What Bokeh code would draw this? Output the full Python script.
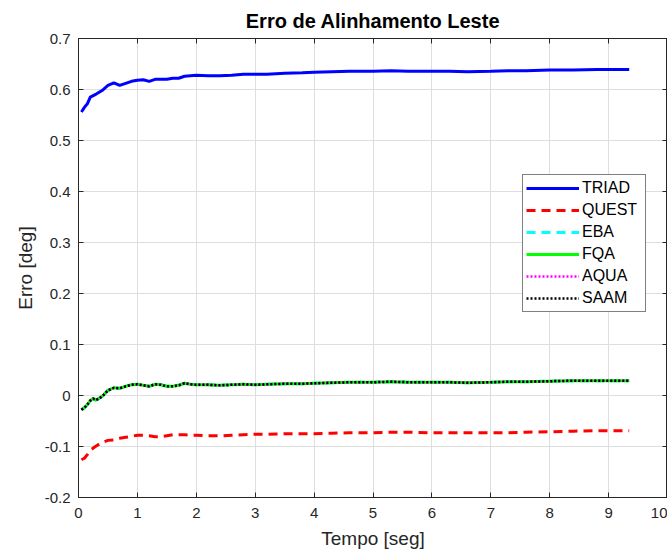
from bokeh.plotting import figure
from bokeh.models import LinearAxis, FixedTicker, Range1d, Legend, LegendItem, CustomJSTickFormatter
from bokeh.embed import file_html
from bokeh.resources import INLINE

# ---- data ----
t = [0.05, 0.1, 0.15, 0.2, 0.25, 0.3, 0.4, 0.5, 0.6, 0.7, 0.8, 0.9, 1.0, 1.1, 1.2, 1.3,
     1.4, 1.5, 1.6, 1.7, 1.8, 1.9, 2.0, 2.2, 2.4, 2.6, 2.8, 3.0, 3.2, 3.5, 3.8, 4.0,
     4.3, 4.6, 5.0, 5.3, 5.6, 6.0, 6.3, 6.6, 7.0, 7.3, 7.6, 8.0, 8.4, 8.8, 9.0, 9.35]
triad = [0.556, 0.565, 0.572, 0.585, 0.588, 0.591, 0.598, 0.608, 0.613, 0.608, 0.612, 0.616,
         0.618, 0.619, 0.616, 0.620, 0.620, 0.620, 0.622, 0.622, 0.626, 0.627, 0.628, 0.627,
         0.627, 0.628, 0.630, 0.630, 0.630, 0.632, 0.633, 0.634, 0.635, 0.636, 0.636, 0.637,
         0.636, 0.636, 0.636, 0.635, 0.636, 0.637, 0.637, 0.638, 0.638, 0.639, 0.639, 0.639]
quest = [-0.126, -0.123, -0.116, -0.108, -0.103, -0.099, -0.092, -0.088, -0.087, -0.084,
         -0.082, -0.080, -0.078, -0.078, -0.079, -0.081, -0.081, -0.079, -0.077, -0.077,
         -0.077, -0.078, -0.078, -0.079, -0.079, -0.078, -0.077, -0.076, -0.076, -0.075,
         -0.075, -0.075, -0.074, -0.073, -0.073, -0.072, -0.072, -0.073, -0.073, -0.073,
         -0.073, -0.073, -0.072, -0.071, -0.070, -0.069, -0.069, -0.069]
fqa = [-0.028, -0.024, -0.018, -0.010, -0.006, -0.009, -0.002, 0.010, 0.015, 0.014, 0.018,
       0.021, 0.022, 0.020, 0.018, 0.022, 0.021, 0.018, 0.018, 0.020, 0.024, 0.022, 0.021,
       0.021, 0.020, 0.021, 0.022, 0.021, 0.022, 0.023, 0.023, 0.024, 0.025, 0.026, 0.026,
       0.027, 0.026, 0.026, 0.026, 0.025, 0.026, 0.027, 0.027, 0.028, 0.029, 0.029, 0.029,
       0.029]
eba = list(fqa)
aqua = list(fqa)
saam = list(fqa)

x_ticks = [0, 1, 2, 3, 4, 5, 6, 7, 8, 9, 10]
y_ticks = [-0.2, -0.1, 0, 0.1, 0.2, 0.3, 0.4, 0.5, 0.6, 0.7]
y_tick_labels = ["-0.2", "-0.1", "0", "0.1", "0.2", "0.3", "0.4", "0.5", "0.6", "0.7"]

FONT = "Liberation Sans"
AX = "#262626"

p = figure(width=667, height=551, output_backend="svg", toolbar_location=None,
           x_range=Range1d(0, 10), y_range=Range1d(-0.2, 0.7),
           min_border_left=78, min_border_right=0, min_border_bottom=0, min_border_top=0)

p.title.text = "Erro de Alinhamento Leste"
p.title.align = "center"
p.title.text_font = FONT
p.title.text_font_size = "20px"
p.title.text_font_style = "bold"
p.title.text_color = "#000000"
p.title.standoff = 14

p.outline_line_color = AX
p.outline_line_width = 1
p.background_fill_color = "white"
p.border_fill_color = "white"

for ax in (p.xaxis[0], p.yaxis[0]):
    ax.axis_line_color = AX
    ax.major_tick_line_color = AX
    ax.major_tick_in = 5
    ax.major_tick_out = 0
    ax.minor_tick_line_color = None
    ax.major_label_text_font = FONT
    ax.major_label_text_font_size = "15px"
    ax.major_label_text_color = AX
    ax.axis_label_text_font = FONT
    ax.axis_label_text_font_size = "19px"
    ax.axis_label_text_font_style = "normal"
    ax.axis_label_text_color = AX

p.xaxis.ticker = FixedTicker(ticks=x_ticks)
p.yaxis.ticker = FixedTicker(ticks=y_ticks)
p.yaxis.major_label_overrides = {v: s for v, s in zip(y_ticks, y_tick_labels)}
p.xaxis.axis_label = "Tempo [seg]"
p.yaxis.axis_label = "Erro [deg]"
p.xaxis.major_label_standoff = 10
p.yaxis.major_label_standoff = 8
p.xaxis.axis_label_standoff = 7
p.yaxis.axis_label_standoff = 6

blank = CustomJSTickFormatter(code="return ''")
top = LinearAxis(ticker=FixedTicker(ticks=x_ticks), formatter=blank,
                 major_label_text_font_size="1px",
                 major_tick_in=5, major_tick_out=0, minor_tick_line_color=None,
                 axis_line_color=AX, major_tick_line_color=AX, major_label_standoff=0)
right = LinearAxis(ticker=FixedTicker(ticks=y_ticks), formatter=blank,
                   major_label_text_font_size="1px",
                   major_tick_in=5, major_tick_out=0, minor_tick_line_color=None,
                   axis_line_color=AX, major_tick_line_color=AX, major_label_standoff=0)
p.add_layout(top, "above")
p.add_layout(right, "right")

p.xgrid.ticker = FixedTicker(ticks=x_ticks)
p.ygrid.ticker = FixedTicker(ticks=y_ticks)
p.grid.grid_line_color = "#dedede"
p.grid.grid_line_width = 1

r1 = p.line(t, triad, line_color="#0000ff", line_width=3)
r2 = p.line(t, quest, line_color="#ff0000", line_width=3, line_dash="9 6")
r3 = p.line(t, eba, line_color="#00ffff", line_width=3, line_dash="9 6")
r4 = p.line(t, fqa, line_color="#00ff00", line_width=3)
r5 = p.line(t, aqua, line_color="#ff00ff", line_width=2.5, line_dash="2 2")
r6 = p.line(t, saam, line_color="#000000", line_width=2.5, line_dash="2 2")

legend = Legend(items=[
    LegendItem(label="TRIAD", renderers=[r1]),
    LegendItem(label="QUEST", renderers=[r2]),
    LegendItem(label="EBA", renderers=[r3]),
    LegendItem(label="FQA", renderers=[r4]),
    LegendItem(label="AQUA", renderers=[r5]),
    LegendItem(label="SAAM", renderers=[r6]),
], location=(444, 185))
legend.glyph_width = 53
legend.glyph_height = 20
legend.label_height = 20
legend.label_width = 60
legend.spacing = 2
legend.padding = 3
legend.margin = 0
legend.label_standoff = 3
legend.label_text_font = FONT
legend.label_text_font_size = "16px"
legend.label_text_color = "#000000"
legend.border_line_color = "#000000"
legend.border_line_width = 1
legend.background_fill_alpha = 1
p.add_layout(legend, "center")

open("out.html", "w").write(file_html(p, INLINE))
